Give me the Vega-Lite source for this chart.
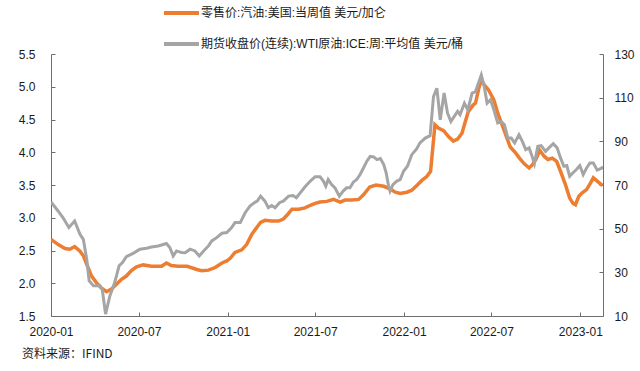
{
  "$schema": "https://vega.github.io/schema/vega-lite/v6.json",
  "width": 552,
  "height": 262,
  "autosize": "none",
  "padding": {"left": 51, "top": 54, "right": 37, "bottom": 55},
  "background": "white",
  "config": {
    "view": {"stroke": null},
    "font": "Liberation Sans, Noto Sans CJK SC",
    "axis": {"grid": false, "domainColor": "#6e6e6e", "tickColor": "#6e6e6e", "tickSize": -4, "labelFontSize": 12, "labelColor": "#1a1a1a", "labelFont": "Liberation Sans", "title": null, "domainWidth": 1, "tickWidth": 1}
  },
  "title": {"text": "资料来源：IFIND", "orient": "bottom", "anchor": "start", "frame": "group", "fontSize": 12, "fontWeight": "normal", "font": "Noto Sans CJK SC", "color": "#1a1a1a", "dx": -29, "offset": 12},
  "data": {"values": [
    {"series":"gas","date":"2020-01-01","value":2.67},
    {"series":"gas","date":"2020-01-16","value":2.59},
    {"series":"gas","date":"2020-01-30","value":2.53},
    {"series":"gas","date":"2020-02-09","value":2.52},
    {"series":"gas","date":"2020-02-19","value":2.56},
    {"series":"gas","date":"2020-03-01","value":2.49},
    {"series":"gas","date":"2020-03-08","value":2.42},
    {"series":"gas","date":"2020-03-15","value":2.29},
    {"series":"gas","date":"2020-03-25","value":2.11},
    {"series":"gas","date":"2020-04-04","value":2.01},
    {"series":"gas","date":"2020-04-14","value":1.93},
    {"series":"gas","date":"2020-04-25","value":1.87},
    {"series":"gas","date":"2020-05-05","value":1.91},
    {"series":"gas","date":"2020-05-15","value":1.98},
    {"series":"gas","date":"2020-05-26","value":2.06},
    {"series":"gas","date":"2020-06-05","value":2.11},
    {"series":"gas","date":"2020-06-15","value":2.19},
    {"series":"gas","date":"2020-06-26","value":2.25},
    {"series":"gas","date":"2020-07-10","value":2.28},
    {"series":"gas","date":"2020-07-27","value":2.26},
    {"series":"gas","date":"2020-08-17","value":2.26},
    {"series":"gas","date":"2020-08-27","value":2.31},
    {"series":"gas","date":"2020-09-06","value":2.27},
    {"series":"gas","date":"2020-09-20","value":2.26},
    {"series":"gas","date":"2020-10-09","value":2.26},
    {"series":"gas","date":"2020-10-29","value":2.21},
    {"series":"gas","date":"2020-11-08","value":2.19},
    {"series":"gas","date":"2020-11-22","value":2.20},
    {"series":"gas","date":"2020-12-06","value":2.24},
    {"series":"gas","date":"2020-12-20","value":2.31},
    {"series":"gas","date":"2020-12-30","value":2.34},
    {"series":"gas","date":"2021-01-06","value":2.38},
    {"series":"gas","date":"2021-01-16","value":2.47},
    {"series":"gas","date":"2021-01-30","value":2.51},
    {"series":"gas","date":"2021-02-09","value":2.59},
    {"series":"gas","date":"2021-02-20","value":2.75},
    {"series":"gas","date":"2021-03-02","value":2.85},
    {"series":"gas","date":"2021-03-10","value":2.93},
    {"series":"gas","date":"2021-03-19","value":2.96},
    {"series":"gas","date":"2021-04-02","value":2.95},
    {"series":"gas","date":"2021-04-16","value":2.95},
    {"series":"gas","date":"2021-04-26","value":2.98},
    {"series":"gas","date":"2021-05-05","value":3.05},
    {"series":"gas","date":"2021-05-14","value":3.13},
    {"series":"gas","date":"2021-05-28","value":3.13},
    {"series":"gas","date":"2021-06-10","value":3.15},
    {"series":"gas","date":"2021-06-21","value":3.19},
    {"series":"gas","date":"2021-07-01","value":3.22},
    {"series":"gas","date":"2021-07-11","value":3.24},
    {"series":"gas","date":"2021-07-25","value":3.25},
    {"series":"gas","date":"2021-08-08","value":3.28},
    {"series":"gas","date":"2021-08-22","value":3.24},
    {"series":"gas","date":"2021-09-01","value":3.27},
    {"series":"gas","date":"2021-09-15","value":3.27},
    {"series":"gas","date":"2021-09-29","value":3.28},
    {"series":"gas","date":"2021-10-09","value":3.35},
    {"series":"gas","date":"2021-10-22","value":3.47},
    {"series":"gas","date":"2021-11-04","value":3.50},
    {"series":"gas","date":"2021-11-20","value":3.48},
    {"series":"gas","date":"2021-12-03","value":3.44},
    {"series":"gas","date":"2021-12-14","value":3.39},
    {"series":"gas","date":"2021-12-24","value":3.37},
    {"series":"gas","date":"2022-01-07","value":3.39},
    {"series":"gas","date":"2022-01-17","value":3.42},
    {"series":"gas","date":"2022-01-27","value":3.49},
    {"series":"gas","date":"2022-02-07","value":3.57},
    {"series":"gas","date":"2022-02-17","value":3.63},
    {"series":"gas","date":"2022-02-25","value":3.71},
    {"series":"gas","date":"2022-03-06","value":4.42},
    {"series":"gas","date":"2022-03-13","value":4.37},
    {"series":"gas","date":"2022-03-24","value":4.33},
    {"series":"gas","date":"2022-04-03","value":4.24},
    {"series":"gas","date":"2022-04-13","value":4.17},
    {"series":"gas","date":"2022-04-22","value":4.20},
    {"series":"gas","date":"2022-05-01","value":4.29},
    {"series":"gas","date":"2022-05-06","value":4.42},
    {"series":"gas","date":"2022-05-14","value":4.62},
    {"series":"gas","date":"2022-05-24","value":4.72},
    {"series":"gas","date":"2022-05-29","value":4.75},
    {"series":"gas","date":"2022-06-05","value":4.98},
    {"series":"gas","date":"2022-06-10","value":5.10},
    {"series":"gas","date":"2022-06-16","value":5.03},
    {"series":"gas","date":"2022-06-25","value":4.95},
    {"series":"gas","date":"2022-07-06","value":4.80},
    {"series":"gas","date":"2022-07-14","value":4.60},
    {"series":"gas","date":"2022-07-23","value":4.42},
    {"series":"gas","date":"2022-08-01","value":4.24},
    {"series":"gas","date":"2022-08-09","value":4.08},
    {"series":"gas","date":"2022-08-20","value":3.99},
    {"series":"gas","date":"2022-08-28","value":3.91},
    {"series":"gas","date":"2022-09-06","value":3.83},
    {"series":"gas","date":"2022-09-17","value":3.76},
    {"series":"gas","date":"2022-09-24","value":3.81},
    {"series":"gas","date":"2022-10-01","value":3.89},
    {"series":"gas","date":"2022-10-09","value":4.03},
    {"series":"gas","date":"2022-10-18","value":3.94},
    {"series":"gas","date":"2022-10-26","value":3.89},
    {"series":"gas","date":"2022-11-04","value":3.91},
    {"series":"gas","date":"2022-11-13","value":3.86},
    {"series":"gas","date":"2022-11-21","value":3.71},
    {"series":"gas","date":"2022-12-01","value":3.51},
    {"series":"gas","date":"2022-12-10","value":3.30},
    {"series":"gas","date":"2022-12-17","value":3.22},
    {"series":"gas","date":"2022-12-22","value":3.20},
    {"series":"gas","date":"2022-12-29","value":3.33},
    {"series":"gas","date":"2023-01-05","value":3.38},
    {"series":"gas","date":"2023-01-14","value":3.43},
    {"series":"gas","date":"2023-01-22","value":3.53},
    {"series":"gas","date":"2023-01-28","value":3.61},
    {"series":"gas","date":"2023-02-05","value":3.56},
    {"series":"gas","date":"2023-02-13","value":3.51},
    {"series":"gas","date":"2023-02-16","value":3.49},
    {"series":"wti","date":"2020-01-01","value":62.2},
    {"series":"wti","date":"2020-01-16","value":58.0},
    {"series":"wti","date":"2020-01-26","value":55.0},
    {"series":"wti","date":"2020-02-07","value":50.5},
    {"series":"wti","date":"2020-02-19","value":53.5},
    {"series":"wti","date":"2020-03-01","value":47.4},
    {"series":"wti","date":"2020-03-08","value":45.1},
    {"series":"wti","date":"2020-03-15","value":36.0},
    {"series":"wti","date":"2020-03-20","value":26.1},
    {"series":"wti","date":"2020-03-29","value":23.8},
    {"series":"wti","date":"2020-04-08","value":23.8},
    {"series":"wti","date":"2020-04-11","value":24.0},
    {"series":"wti","date":"2020-04-16","value":22.3},
    {"series":"wti","date":"2020-04-23","value":10.9},
    {"series":"wti","date":"2020-05-02","value":19.3},
    {"series":"wti","date":"2020-05-12","value":25.4},
    {"series":"wti","date":"2020-05-21","value":33.0},
    {"series":"wti","date":"2020-05-28","value":34.5},
    {"series":"wti","date":"2020-06-05","value":37.2},
    {"series":"wti","date":"2020-06-19","value":38.7},
    {"series":"wti","date":"2020-07-03","value":40.6},
    {"series":"wti","date":"2020-07-17","value":41.0},
    {"series":"wti","date":"2020-07-27","value":41.6},
    {"series":"wti","date":"2020-08-10","value":42.1},
    {"series":"wti","date":"2020-08-27","value":43.2},
    {"series":"wti","date":"2020-09-03","value":41.4},
    {"series":"wti","date":"2020-09-10","value":37.5},
    {"series":"wti","date":"2020-09-17","value":39.8},
    {"series":"wti","date":"2020-09-27","value":39.1},
    {"series":"wti","date":"2020-10-05","value":39.0},
    {"series":"wti","date":"2020-10-15","value":40.6},
    {"series":"wti","date":"2020-10-25","value":39.8},
    {"series":"wti","date":"2020-11-03","value":37.5},
    {"series":"wti","date":"2020-11-12","value":39.8},
    {"series":"wti","date":"2020-11-22","value":42.1},
    {"series":"wti","date":"2020-11-29","value":44.4},
    {"series":"wti","date":"2020-12-09","value":45.9},
    {"series":"wti","date":"2020-12-20","value":47.9},
    {"series":"wti","date":"2020-12-30","value":48.2},
    {"series":"wti","date":"2021-01-09","value":50.5},
    {"series":"wti","date":"2021-01-16","value":52.8},
    {"series":"wti","date":"2021-01-27","value":52.8},
    {"series":"wti","date":"2021-02-06","value":57.3},
    {"series":"wti","date":"2021-02-16","value":60.3},
    {"series":"wti","date":"2021-02-27","value":62.2},
    {"series":"wti","date":"2021-03-03","value":62.6},
    {"series":"wti","date":"2021-03-10","value":64.9},
    {"series":"wti","date":"2021-03-19","value":62.6},
    {"series":"wti","date":"2021-03-26","value":59.6},
    {"series":"wti","date":"2021-04-02","value":60.6},
    {"series":"wti","date":"2021-04-09","value":59.6},
    {"series":"wti","date":"2021-04-18","value":61.9},
    {"series":"wti","date":"2021-04-26","value":62.6},
    {"series":"wti","date":"2021-05-07","value":64.9},
    {"series":"wti","date":"2021-05-16","value":65.2},
    {"series":"wti","date":"2021-05-23","value":64.2},
    {"series":"wti","date":"2021-05-31","value":66.4},
    {"series":"wti","date":"2021-06-10","value":69.2},
    {"series":"wti","date":"2021-06-21","value":71.8},
    {"series":"wti","date":"2021-07-01","value":73.8},
    {"series":"wti","date":"2021-07-11","value":73.8},
    {"series":"wti","date":"2021-07-18","value":71.8},
    {"series":"wti","date":"2021-07-23","value":69.5},
    {"series":"wti","date":"2021-07-28","value":72.5},
    {"series":"wti","date":"2021-08-04","value":70.2},
    {"series":"wti","date":"2021-08-11","value":68.7},
    {"series":"wti","date":"2021-08-20","value":64.9},
    {"series":"wti","date":"2021-08-28","value":67.2},
    {"series":"wti","date":"2021-09-04","value":68.7},
    {"series":"wti","date":"2021-09-11","value":68.7},
    {"series":"wti","date":"2021-09-18","value":71.3},
    {"series":"wti","date":"2021-09-25","value":72.5},
    {"series":"wti","date":"2021-10-02","value":74.8},
    {"series":"wti","date":"2021-10-09","value":77.8},
    {"series":"wti","date":"2021-10-16","value":80.9},
    {"series":"wti","date":"2021-10-23","value":83.1},
    {"series":"wti","date":"2021-10-30","value":82.9},
    {"series":"wti","date":"2021-11-06","value":81.6},
    {"series":"wti","date":"2021-11-13","value":82.1},
    {"series":"wti","date":"2021-11-20","value":79.4},
    {"series":"wti","date":"2021-11-25","value":75.6},
    {"series":"wti","date":"2021-11-30","value":69.5},
    {"series":"wti","date":"2021-12-03","value":67.2},
    {"series":"wti","date":"2021-12-09","value":70.2},
    {"series":"wti","date":"2021-12-17","value":71.8},
    {"series":"wti","date":"2021-12-24","value":72.5},
    {"series":"wti","date":"2021-12-31","value":76.3},
    {"series":"wti","date":"2022-01-08","value":78.6},
    {"series":"wti","date":"2022-01-17","value":83.9},
    {"series":"wti","date":"2022-01-27","value":86.5},
    {"series":"wti","date":"2022-02-03","value":89.3},
    {"series":"wti","date":"2022-02-14","value":91.5},
    {"series":"wti","date":"2022-02-24","value":92.6},
    {"series":"wti","date":"2022-03-03","value":110.5},
    {"series":"wti","date":"2022-03-10","value":114.3},
    {"series":"wti","date":"2022-03-17","value":99.9},
    {"series":"wti","date":"2022-03-25","value":112.1},
    {"series":"wti","date":"2022-04-01","value":103.0},
    {"series":"wti","date":"2022-04-08","value":99.1},
    {"series":"wti","date":"2022-04-15","value":101.4},
    {"series":"wti","date":"2022-04-22","value":103.7},
    {"series":"wti","date":"2022-04-27","value":102.2},
    {"series":"wti","date":"2022-05-06","value":107.5},
    {"series":"wti","date":"2022-05-13","value":104.4},
    {"series":"wti","date":"2022-05-22","value":112.1},
    {"series":"wti","date":"2022-05-29","value":112.8},
    {"series":"wti","date":"2022-06-10","value":120.4},
    {"series":"wti","date":"2022-06-16","value":115.1},
    {"series":"wti","date":"2022-06-22","value":107.5},
    {"series":"wti","date":"2022-06-29","value":109.0},
    {"series":"wti","date":"2022-07-06","value":104.4},
    {"series":"wti","date":"2022-07-14","value":98.4},
    {"series":"wti","date":"2022-07-21","value":99.1},
    {"series":"wti","date":"2022-07-28","value":97.6},
    {"series":"wti","date":"2022-08-04","value":91.5},
    {"series":"wti","date":"2022-08-11","value":91.5},
    {"series":"wti","date":"2022-08-18","value":89.3},
    {"series":"wti","date":"2022-08-27","value":93.0},
    {"series":"wti","date":"2022-09-03","value":90.0},
    {"series":"wti","date":"2022-09-10","value":86.2},
    {"series":"wti","date":"2022-09-17","value":87.0},
    {"series":"wti","date":"2022-09-22","value":83.9},
    {"series":"wti","date":"2022-09-28","value":79.8},
    {"series":"wti","date":"2022-10-05","value":87.7},
    {"series":"wti","date":"2022-10-12","value":88.0},
    {"series":"wti","date":"2022-10-21","value":85.4},
    {"series":"wti","date":"2022-10-28","value":87.0},
    {"series":"wti","date":"2022-11-06","value":88.9},
    {"series":"wti","date":"2022-11-14","value":87.0},
    {"series":"wti","date":"2022-11-21","value":82.4},
    {"series":"wti","date":"2022-11-28","value":78.6},
    {"series":"wti","date":"2022-12-04","value":78.9},
    {"series":"wti","date":"2022-12-10","value":74.0},
    {"series":"wti","date":"2022-12-17","value":75.6},
    {"series":"wti","date":"2022-12-24","value":77.1},
    {"series":"wti","date":"2022-12-31","value":78.9},
    {"series":"wti","date":"2023-01-07","value":74.8},
    {"series":"wti","date":"2023-01-14","value":77.8},
    {"series":"wti","date":"2023-01-21","value":80.1},
    {"series":"wti","date":"2023-01-28","value":80.1},
    {"series":"wti","date":"2023-02-05","value":76.8},
    {"series":"wti","date":"2023-02-15","value":77.8},
    {"series":"wti","date":"2023-02-17","value":78.5}
  ]},
  "encoding": {
    "x": {
      "field": "date", "type": "temporal",
      "scale": {"type": "utc", "domain": [{"year": 2020, "month": 1, "date": 1, "utc": true}, {"year": 2023, "month": 2, "date": 17, "utc": true}], "nice": false},
      "axis": {
        "values": [
          {"year": 2020, "month": 1, "date": 1, "utc": true},
          {"year": 2020, "month": 7, "date": 1, "utc": true},
          {"year": 2021, "month": 1, "date": 1, "utc": true},
          {"year": 2021, "month": 7, "date": 1, "utc": true},
          {"year": 2022, "month": 1, "date": 1, "utc": true},
          {"year": 2022, "month": 7, "date": 1, "utc": true},
          {"year": 2023, "month": 1, "date": 1, "utc": true}
        ],
        "format": "%Y-%m", "labelPadding": 14, "labelFlush": false, "labelOverlap": false
      }
    }
  },
  "layer": [
    {
      "transform": [{"filter": "datum.series == 'gas'"}],
      "mark": {"type": "line", "strokeWidth": 3.5, "clip": true},
      "encoding": {
        "y": {"field": "value", "type": "quantitative", "scale": {"domain": [1.5, 5.5], "nice": false, "zero": false},
          "axis": {"orient": "left", "values": [1.5, 2, 2.5, 3, 3.5, 4, 4.5, 5, 5.5], "format": ".1f", "labelPadding": 20}},
        "color": {"field": "series", "type": "nominal",
          "scale": {"domain": ["gas", "wti"], "range": ["#ED7D31", "#A5A5A5"]},
          "legend": {"orient": "none", "legendX": 124.5, "legendY": -47, "direction": "vertical", "title": null,
            "symbolType": "M-4.375,0H4.375", "symbolSize": 64, "symbolStrokeWidth": 4, "labelFontSize": 12, "labelLimit": 0,
            "labelFont": "Liberation Sans, Noto Sans CJK SC", "labelColor": "#1a1a1a", "rowPadding": 15, "labelOffset": 13.5,
            "labelExpr": "datum.label == 'gas' ? '零售价:汽油:美国:当周值 美元/加仑' : '期货收盘价(连续):WTI原油:ICE:周:平均值 美元/桶'"}}
      }
    },
    {
      "transform": [{"filter": "datum.series == 'wti'"}],
      "mark": {"type": "line", "strokeWidth": 3, "clip": true},
      "encoding": {
        "y": {"field": "value", "type": "quantitative", "scale": {"domain": [10, 130], "nice": false, "zero": false},
          "axis": {"orient": "right", "values": [10, 30, 50, 70, 90, 110, 130], "labelPadding": 15}},
        "color": {"field": "series", "type": "nominal",
          "scale": {"domain": ["gas", "wti"], "range": ["#ED7D31", "#A5A5A5"]},
          "legend": {"orient": "none", "legendX": 124.5, "legendY": -47, "direction": "vertical", "title": null,
            "symbolType": "M-4.375,0H4.375", "symbolSize": 64, "symbolStrokeWidth": 4, "labelFontSize": 12, "labelLimit": 0,
            "labelFont": "Liberation Sans, Noto Sans CJK SC", "labelColor": "#1a1a1a", "rowPadding": 15, "labelOffset": 13.5,
            "labelExpr": "datum.label == 'gas' ? '零售价:汽油:美国:当周值 美元/加仑' : '期货收盘价(连续):WTI原油:ICE:周:平均值 美元/桶'"}}
      }
    }
  ],
  "resolve": {"scale": {"y": "independent"}}
}
